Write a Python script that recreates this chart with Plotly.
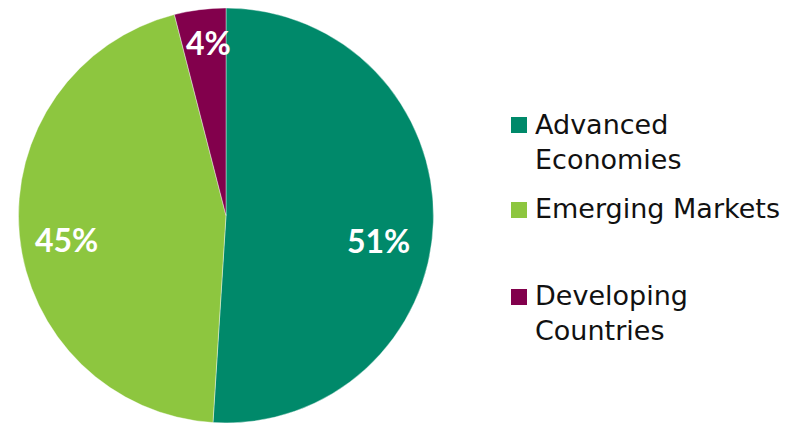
import math
import plotly.graph_objects as go

# Share of total by country group
groups = ["Advanced<br>Economies", "Emerging Markets", "Developing<br>Countries"]
shares = [51, 45, 4]
colors = ["#00896A", "#8DC63F", "#82004C"]

W, H = 800, 423
CX, CY, R = 226, 215.5, 207.5

# Label placement inside slices: radial fraction and angular nudge (deg)
label_r = [0.745, 0.78, 0.84]
label_dtheta = [7.4, -3.3, 1.6]

# Legend layout (pixels)
legend_sq_x = 511
legend_sq_size = 16
legend_text_x = 533
legend_sq_y = [125, 210, 297]
legend_text_y = [142, 209, 313]


def px(x):
    return x / W


def py(y):
    return 1 - y / H


fig = go.Figure(
    go.Pie(
        labels=[g.replace("<br>", " ") for g in groups],
        values=shares,
        sort=False,
        direction="clockwise",
        rotation=0,
        marker=dict(colors=colors, line=dict(color="white", width=0.4)),
        textinfo="none",
        hoverinfo="label+percent",
        domain=dict(x=[px(CX - R), px(CX + R)], y=[py(CY + R), py(CY - R)]),
        showlegend=False,
    )
)

total = sum(shares)
cum = 0
for i, v in enumerate(shares):
    mid = (cum + v / 2) / total * 360 + label_dtheta[i]
    cum += v
    rr = R * label_r[i]
    lx = CX + rr * math.sin(math.radians(mid))
    ly = CY - rr * math.cos(math.radians(mid))
    fig.add_annotation(
        x=px(lx), y=py(ly), xref="paper", yref="paper",
        text=f"<b>{round(v / total * 100)}%</b>",
        showarrow=False, xanchor="center", yanchor="middle",
        font=dict(family="Lato", size=32, color="white"),
    )

for i, g in enumerate(groups):
    s = legend_sq_size / 2
    fig.add_shape(
        type="rect", xref="paper", yref="paper",
        x0=px(legend_sq_x), x1=px(legend_sq_x + legend_sq_size),
        y0=py(legend_sq_y[i] + s), y1=py(legend_sq_y[i] - s),
        fillcolor=colors[i], line=dict(width=0),
    )
    fig.add_annotation(
        x=px(legend_text_x), y=py(legend_text_y[i]), xref="paper", yref="paper",
        text=g, showarrow=False, xanchor="left", yanchor="middle", align="left",
        font=dict(family="DejaVu Sans", size=27, color="#111111"),
    )

fig.update_layout(
    width=W, height=H,
    margin=dict(l=0, r=0, t=0, b=0),
    paper_bgcolor="white", plot_bgcolor="white",
)

fig.write_html("out.html")
